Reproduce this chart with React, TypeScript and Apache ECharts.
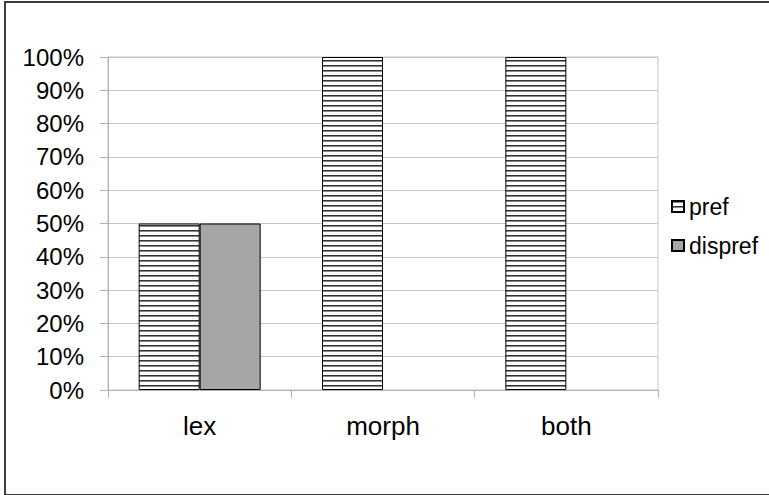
import React, { useEffect, useRef } from "react";
import * as echarts from "echarts";

const categories = ["lex", "morph", "both"];
const prefValues = [50, 100, 100];
const disprefValues = [50, 0, 0];
const seriesNames = ["pref", "dispref"];

function makeStripe(): HTMLCanvasElement {
  const c = document.createElement("canvas");
  c.width = 4;
  c.height = 5;
  const ctx = c.getContext("2d")!;
  ctx.fillStyle = "#ffffff";
  ctx.fillRect(0, 0, 4, 5);
  ctx.fillStyle = "#333333";
  ctx.fillRect(0, 0, 4, 1);
  ctx.fillStyle = "#8a8a8a";
  ctx.fillRect(0, 1, 4, 1);
  return c;
}

export default function App() {
  const ref = useRef<HTMLDivElement>(null);
  useEffect(() => {
    if (!ref.current) return;
    const chart = echarts.init(ref.current, undefined, { renderer: "svg" });
    const stripe = makeStripe();
    const font = "'Liberation Sans', Arial, sans-serif";
    const nz = (v: number) => (v === 0 ? "-" : v);
    chart.setOption({
      animation: false,
      backgroundColor: "transparent",
      grid: {
        left: 108,
        right: 111,
        top: 57,
        bottom: 105,
        show: true,
        borderColor: "#c4c4c4",
        borderWidth: 1,
        containLabel: false,
      },
      legend: {
        orient: "vertical",
        left: 671,
        top: 195,
        padding: 0,
        icon: "rect",
        itemWidth: 12,
        itemHeight: 11,
        itemGap: 16,
        data: seriesNames,
        textStyle: { fontFamily: font, fontSize: 23, color: "#000" },
      },
      xAxis: {
        type: "category",
        data: categories,
        axisLine: { show: true, lineStyle: { color: "#b0b0b0", width: 1 } },
        axisTick: { show: true, length: 8, lineStyle: { color: "#b0b0b0" } },
        axisLabel: { margin: 23, fontFamily: font, fontSize: 26, color: "#000" },
        splitLine: { show: false },
      },
      yAxis: {
        type: "value",
        min: 0,
        max: 100,
        interval: 10,
        axisLine: { show: true, lineStyle: { color: "#b0b0b0", width: 1 } },
        axisTick: { show: true, length: 8, lineStyle: { color: "#b0b0b0" } },
        axisLabel: {
          margin: 24,
          formatter: "{value}%",
          fontFamily: font,
          fontSize: 24,
          color: "#000",
        },
        splitLine: { show: true, lineStyle: { color: "#c4c4c4", width: 1 } },
      },
      series: [
        {
          name: seriesNames[0],
          type: "bar",
          barWidth: 61,
          barGap: "0%",
          data: prefValues.map(nz),
          itemStyle: {
            color: { image: stripe, repeat: "repeat", imageWidth: 4, imageHeight: 5 },
            borderColor: "#000",
            borderWidth: 1,
          },
        },
        {
          name: seriesNames[1],
          type: "bar",
          barWidth: 61,
          barGap: "0%",
          data: disprefValues.map(nz),
          itemStyle: { color: "#a6a6a6", borderColor: "#000", borderWidth: 1 },
        },
      ],
    });
    return () => chart.dispose();
  }, []);
  return (
    <div style={{ position: "absolute", left: 0, top: 0, width: 769, height: 495, background: "#fff", overflow: "hidden" }}>
      <div
        style={{
          position: "absolute",
          left: 4,
          top: 1,
          width: 780,
          height: 491,
          border: "2px solid #3c3c3c",
        }}
      />
      <div ref={ref} style={{ position: "absolute", left: 0, top: 0, width: 769, height: 495 }} />
    </div>
  );
}
